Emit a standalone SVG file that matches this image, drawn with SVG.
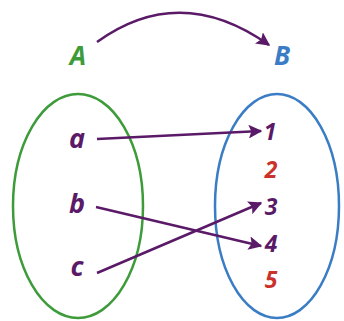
<svg xmlns="http://www.w3.org/2000/svg" width="344" height="321" viewBox="0 0 344 321">
<defs>
<marker id="ah" viewBox="0 0 10 10" refX="9" refY="5" markerWidth="5.5" markerHeight="5.5" orient="auto" markerUnits="strokeWidth">
<path d="M0,0 L10,5 L0,10 L2,5 z" fill="#5a1a68"/>
</marker>
<style>
text{font-family:"Open Sans","Liberation Sans",sans-serif;font-weight:bold;font-style:italic;text-anchor:middle}
.lbl{font-size:26px}
.el{font-size:27px;fill:#5a1a68}
.num{font-size:23px;fill:#5a1a68}
.red{fill:#c9332b}
.conn{stroke:#5a1a68;stroke-width:2.5;fill:none;marker-end:url(#ah)}
</style>
</defs>
<rect width="344" height="321" fill="#fff"/>
<g id="setA">
<ellipse cx="78" cy="206" rx="65" ry="112" fill="none" stroke="#3d9b3a" stroke-width="2.5"/>
<text class="lbl" x="78" y="65" fill="#3d9b3a">A</text>
</g>
<g id="setB">
<ellipse cx="277" cy="206" rx="62" ry="112" fill="none" stroke="#3b7dc4" stroke-width="2.5"/>
<text class="lbl" x="282" y="65" fill="#3b7dc4">B</text>
</g>
<g id="a"><text class="el" x="77" y="148">a</text></g>
<g id="b"><text class="el" x="77" y="213">b</text></g>
<g id="c"><text class="el" x="77" y="276">c</text></g>
<g id="n1"><text class="num" x="270" y="140">1</text></g>
<g id="n2"><text class="num red" x="271" y="178">2</text></g>
<g id="n3"><text class="num" x="271" y="215">3</text></g>
<g id="n4"><text class="num" x="271" y="252">4</text></g>
<g id="n5"><text class="num red" x="271" y="288">5</text></g>
<g id="connectors">
<path class="conn" d="M97,42 Q180,-18 269,45"/>
<path class="conn" d="M97,139 L261,131"/>
<path class="conn" d="M96,207 L261,246"/>
<path class="conn" d="M97,273 L261,203"/>
</g>
</svg>
